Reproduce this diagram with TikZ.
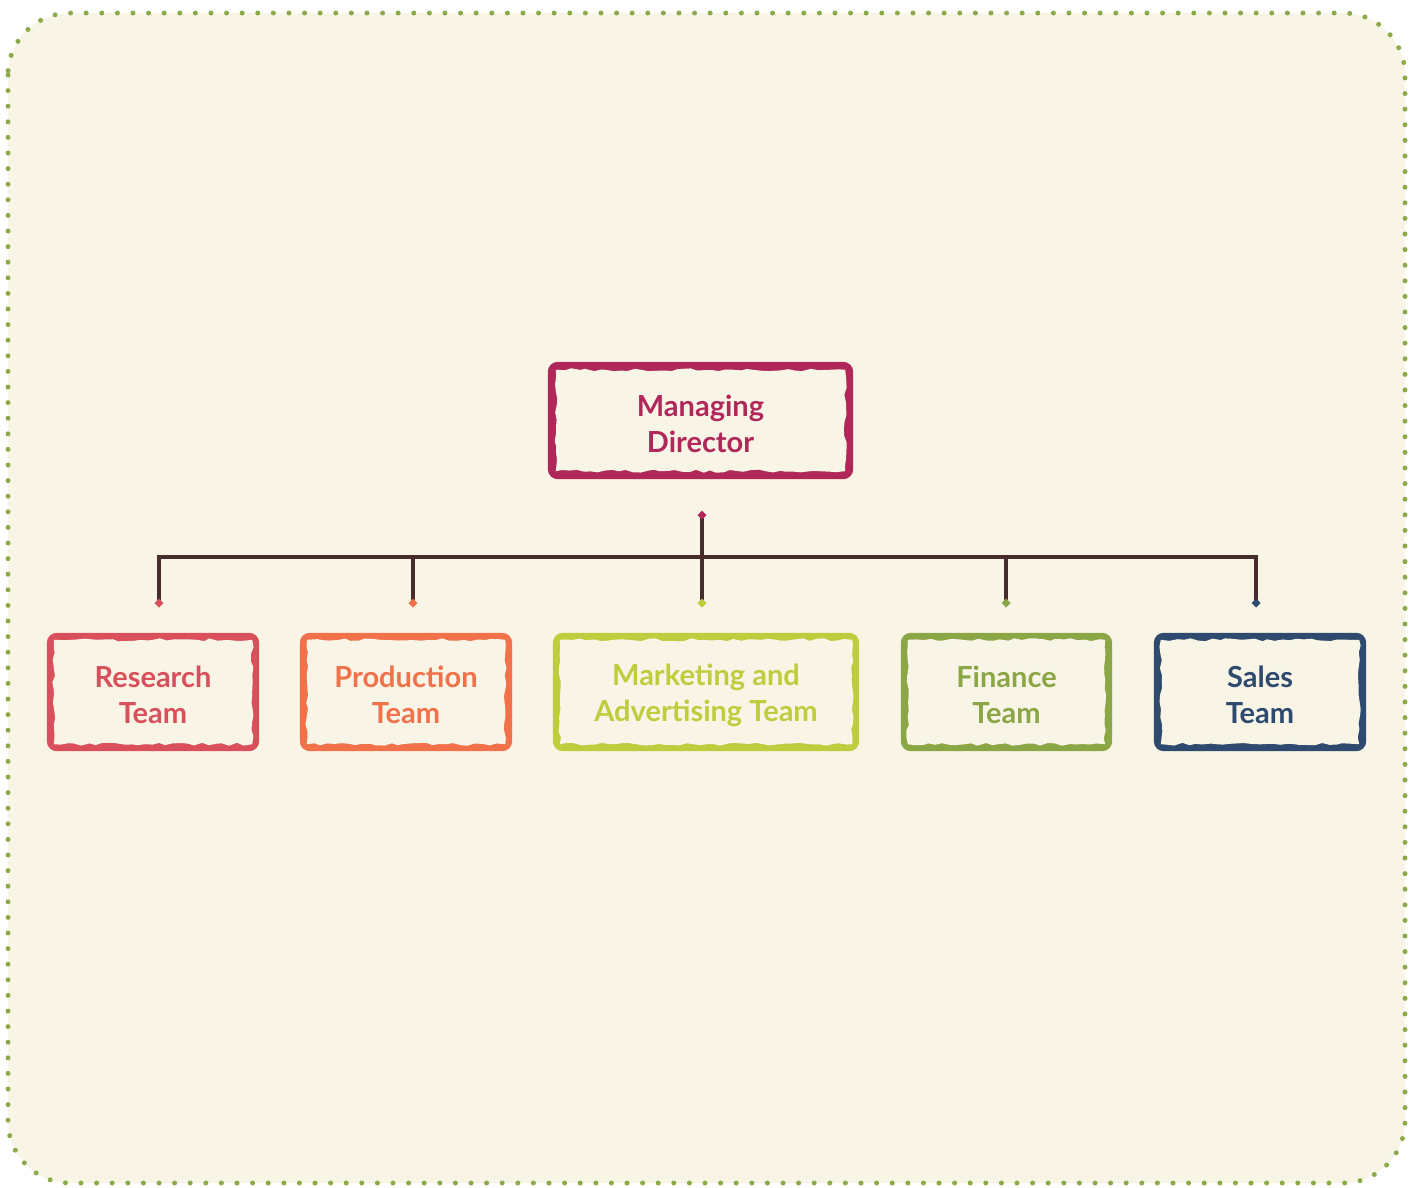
\documentclass[tikz,border=0pt]{standalone}
\usepackage{fontspec}
\setmainfont{Lato}
\usetikzlibrary{arrows.meta,decorations.pathmorphing}
\definecolor{bgc}{HTML}{F9F5E6}
\definecolor{dotc}{HTML}{8DAA4B}
\definecolor{cmd}{HTML}{B0285A}
\definecolor{cres}{HTML}{D94F5C}
\definecolor{cpro}{HTML}{F0714A}
\definecolor{cmar}{HTML}{BCCD3E}
\definecolor{cfin}{HTML}{8BA645}
\definecolor{csal}{HTML}{2E4A6E}
\definecolor{cline}{HTML}{482B2C}
\pgfdeclarelayer{back}
\pgfsetlayers{back,main}
\tikzset{
  boxtext/.style={align=center, font=\fontsize{29}{36}\selectfont\bfseries, inner sep=0pt, yshift=-3pt},
  box/.style={inner sep=0pt, minimum height=118},
  conn/.style={draw=cline, line width=4pt},
}
\newcommand{\roughbox}[3]{% name, colour, inset
  \begin{pgfonlayer}{back}
  \fill[#2, rounded corners=10pt] (#1.north west) rectangle (#1.south east);
  \fill[bgc, decorate, decoration={random steps, segment length=7pt, amplitude=1.5pt}]
    ([shift={(#3,#3)}]#1.north west) rectangle ([shift={(-#3,-#3)}]#1.south east);
  \end{pgfonlayer}
}
\begin{document}
\begin{tikzpicture}[x=1pt,y=-1pt]
\pgfmathsetmacro{\dummy}{1}
\pgfmathsetseed{7}
\useasboundingbox (0,0) rectangle (1418,1187);
\begin{pgfonlayer}{back}
\draw[fill=bgc, draw=dotc, line width=5pt, dash pattern=on 0pt off 15.6pt, line cap=round, rounded corners=62pt]
  (8,13) rectangle (1405,1183);
\end{pgfonlayer}
% boxes
\node[box, minimum width=305, minimum height=117, label={[boxtext, text=cmd]center:Managing\\Director}] (md) at (700.5,420.5) {};
\node[box, minimum width=212, label={[boxtext, text=cres]center:Research\\Team}] (res) at (153,692) {};
\node[box, minimum width=212, label={[boxtext, text=cpro]center:Production\\Team}] (pro) at (406,692) {};
\node[box, minimum width=306, label={[boxtext, text=cmar]center:Marketing and\\Advertising Team}] (mar) at (706,692) {};
\node[box, minimum width=211, label={[boxtext, text=cfin]center:Finance\\Team}] (fin) at (1006.5,692) {};
\node[box, minimum width=212, label={[boxtext, text=csal]center:Sales\\Team}] (sal) at (1260,692) {};
\roughbox{md}{cmd}{8}
\roughbox{res}{cres}{7}
\roughbox{pro}{cpro}{7}
\roughbox{mar}{cmar}{7}
\roughbox{fin}{cfin}{7}
\roughbox{sal}{csal}{7}
% connector points
\coordinate (mdtip) at ([shift={(1.5,36)}]md.south);
\coordinate (bus) at (702,557);
\coordinate (restip) at (159,603);
\coordinate (protip) at (413,603);
\coordinate (martip) at (702,603);
\coordinate (fintip) at (1006,603);
\coordinate (saltip) at (1256,603);
\draw[conn] (mdtip) -- (martip);
\draw[conn] (restip) -- (restip |- bus) -- (saltip |- bus) -- (saltip);
\draw[conn] (protip |- bus) -- (protip);
\draw[conn] (fintip |- bus) -- (fintip);
% diamond markers
\foreach \p/\c in {mdtip/cmd, restip/cres, protip/cpro, martip/cmar, fintip/cfin, saltip/csal}
  \fill[\c] ([xshift=-4.5]\p) -- ([yshift=-4.5]\p) -- ([xshift=4.5]\p) -- ([yshift=4.5]\p) -- cycle;
\end{tikzpicture}
\end{document}
